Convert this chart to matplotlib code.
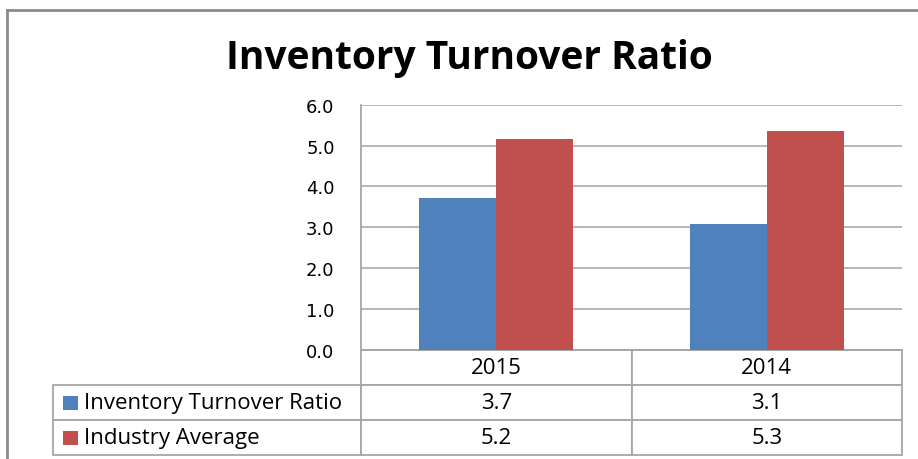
import matplotlib.pyplot as plt
from matplotlib.table import Table
from matplotlib.patches import Rectangle
from matplotlib.lines import Line2D
import numpy as np

# Chart data
years = ["2015", "2014"]
series_names = ["Inventory Turnover Ratio", "Industry Average"]
turnover = [3.73, 3.07]
industry = [5.16, 5.35]
table_turnover = [3.7, 3.1]
table_industry = [5.2, 5.3]
yticks = [0, 1, 2, 3, 4, 5, 6]

blue = "#4F81BD"
red = "#C0504D"
grid_gray = "#B2B2B2"
line_gray = "#A6A6A6"

W, H = 918, 460
fig = plt.figure(figsize=(W / 100, H / 100), dpi=100)

# Axes placed in pixel terms
ax_l, ax_r, ax_t, ax_b = 361, 902, 105.7, 351
ax = fig.add_axes([ax_l / W, 1 - ax_b / H, (ax_r - ax_l) / W, (ax_b - ax_t) / H])

x = np.arange(len(years))
bw = 0.285
ax.bar(x - bw / 2, turnover, bw, color=blue, zorder=3)
ax.bar(x + bw / 2, industry, bw, color=red, zorder=3)

ax.set_xlim(-0.5, len(years) - 0.5)
ax.set_ylim(0, 6)
ax.set_yticks(yticks)
ax.set_yticklabels([f"{v:.1f}" for v in yticks], fontsize=13, fontfamily="DejaVu Sans")
ax.tick_params(axis="y", length=0, pad=19)
ax.set_xticks([])
ax.yaxis.grid(True, color=grid_gray, linewidth=1.3, zorder=0)
for side in ["top", "right"]:
    ax.spines[side].set_visible(False)
for side in ["left", "bottom"]:
    ax.spines[side].set_color(line_gray)
    ax.spines[side].set_linewidth(1.3)


def px_ax(px, py):
    # figure pixel -> axes fraction
    return ((px - ax_l) / (ax_r - ax_l), (ax_b - py) / (ax_b - ax_t))


# Data table under the plot
tbl_l, tbl_bottom = 53, 456
x0, y0 = px_ax(tbl_l, tbl_bottom)
tbl = Table(ax, bbox=[x0, y0, 1 - x0, -y0])
label_w, col_w, row_h = ax_l - tbl_l, (ax_r - ax_l) / 2, 35
font = dict(fontsize=16, fontfamily="Open Sans")
for j, yr in enumerate(years):
    c = tbl.add_cell(0, j + 1, col_w, row_h, text=yr, loc="center")
    c.get_text().set(**font)
rows = [table_turnover, table_industry]
for i, (name, vals) in enumerate(zip(series_names, rows)):
    c = tbl.add_cell(i + 1, 0, label_w, row_h, text=name, loc="left")
    c.get_text().set(**font)
    for j, v in enumerate(vals):
        c = tbl.add_cell(i + 1, j + 1, col_w, row_h, text=f"{v:.1f}", loc="center")
        c.get_text().set(**font)
for cell in tbl.get_celld().values():
    cell.set_edgecolor(line_gray)
    cell.set_linewidth(1.3)
tbl.auto_set_font_size(False)
ax.add_table(tbl)

# legend keys inside the row label cells
for i, col in enumerate([blue, red]):
    cy = 404 + i * 35
    kx, ky = px_ax(63, cy + 7)
    kw = 15 / (ax_r - ax_l)
    kh = 14 / (ax_b - ax_t)
    ax.add_patch(Rectangle((kx, ky), kw, kh, transform=ax.transAxes,
                           facecolor=col, edgecolor="none", clip_on=False))

# Title
fig.text(469 / W, 1 - 69 / H, "Inventory Turnover Ratio", ha="center", va="baseline",
         fontsize=28, fontweight="bold", fontfamily="Open Sans")

# Chart frame (cut off at right and bottom)
fx, fy = 7 / W, 1 - 11 / H
fig.add_artist(Line2D([fx, fx], [-0.02, fy], color="#8C8C8C", linewidth=2))
fig.add_artist(Line2D([fx, 1.02], [fy, fy], color="#8C8C8C", linewidth=2))

fig.savefig("out.png", dpi=100)
